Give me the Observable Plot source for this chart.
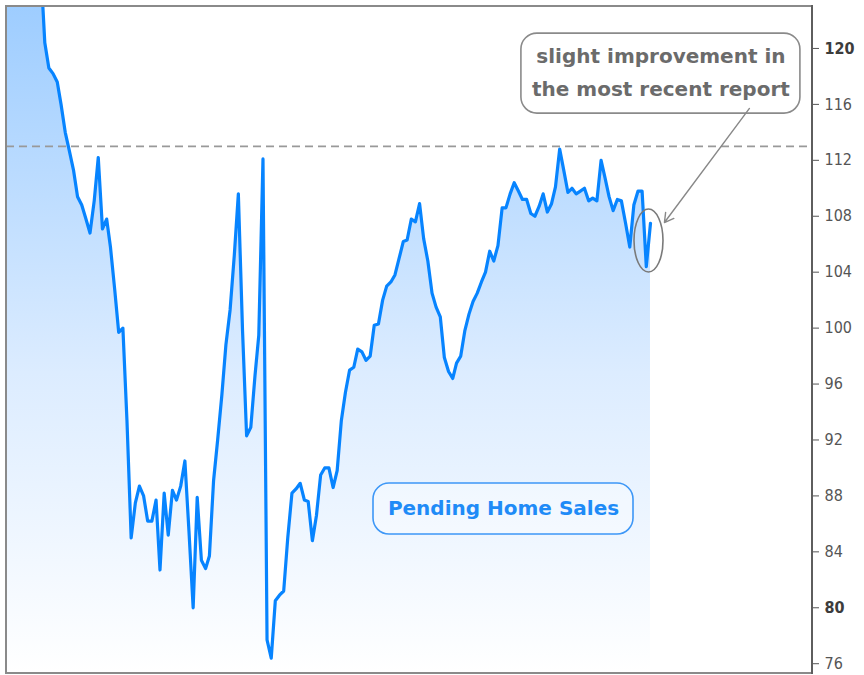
<!DOCTYPE html>
<html><head><meta charset="utf-8">
<script src="https://cdn.jsdelivr.net/npm/d3@7"></script>
<script src="https://cdn.jsdelivr.net/npm/@observablehq/plot@0.6"></script>
<style>
html,body{margin:0;padding:0;background:#fff;}
#chart{width:864px;height:675px;overflow:hidden;}
</style></head><body><div id="chart"></div>
<script>
// Monthly Pending Home Sales Index, Jan 2005 .. Feb 2018
const startYear = 2005;
const startMonth = 0; // January
const indexValues = [
  124.8,125.4,126.0,126.6,126.3,125.9,125.6,125.9,126.3,126.0,
  120.4,118.6,118.2,117.6,116.0,114.0,112.7,111.3,109.4,108.8,
  107.8,106.8,109.1,112.2,107.1,107.8,105.8,102.8, 99.7,100.0,
   93.4, 85.0, 87.5, 88.7, 88.0, 86.2, 86.2, 87.7, 82.7, 88.2,
   85.2, 88.4, 87.7, 88.7, 90.5, 85.5, 80.0, 87.9, 83.4, 82.8,
   83.7, 89.1, 92.0, 95.2, 98.8,101.3,105.2,109.6, 99.8, 92.3,
   92.9, 96.6, 99.5,112.1, 77.7, 76.4, 80.5, 80.9, 81.2, 85.0,
   88.2, 88.5, 88.9, 87.7, 87.6, 84.8, 86.6, 89.5, 90.0, 90.0,
   88.6, 89.8, 93.4, 95.4, 97.0, 97.2, 98.5, 98.3, 97.7, 98.0,
  100.2,100.3,102.0,103.0,103.3,103.8,105.0,106.2,106.3,107.8,
  107.6,108.9,106.4,104.8,102.5,101.5,100.8, 97.9, 96.9, 96.4,
   97.5, 98.0, 99.8,101.0,101.9,102.5,103.3,104.0,105.5,104.8,
  105.9,108.6,108.6,109.6,110.4,109.8,109.2,109.2,108.2,108.0,
  108.7,109.6,108.3,108.9,110.1,112.8,111.3,109.7,110.0,109.6,
  109.8,110.0,109.1,109.3,109.1,112.0,110.8,109.4,108.4,109.2,
  109.1,107.5,105.8,108.8,109.8,109.8,104.4,107.5
];
const yTicks = [76,80,84,88,92,96,100,104,108,112,116,120];
const boldTickLabels = ["80","120"];
const referenceLevel = 113.0;
const seriesLabel = "Pending Home Sales";
const noteLines = ["slight improvement in", "the most recent report"];

// annotation anchors in data units
const seriesLabelAt = {date: new Date(Date.UTC(2015,1,11)), value: 87.06};
const noteAt = {date: new Date(Date.UTC(2018,3,19)), value: 118.2};
const highlightAt = {date: new Date(Date.UTC(2018,0,21)), value: 106.23};
const arrowFrom = {date: new Date(Date.UTC(2020,1,2)), value: 115.71};
const arrowTo = {date: new Date(Date.UTC(2018,4,15)), value: 107.55};

const xDomain = [new Date(Date.UTC(2005,0,22)), new Date(Date.UTC(2021,4,13))];
const yDomain = [75.3, 123.0];

const data = indexValues.map((v, i) => ({date: new Date(Date.UTC(startYear, startMonth + i, 1)), value: v}));

const gradientDefs = (index, scales, values, dims) => {
  const defs = d3.create("svg:defs");
  const g = defs.append("linearGradient").attr("id", "phsFill")
    .attr("gradientUnits", "userSpaceOnUse")
    .attr("x1", 0).attr("x2", 0)
    .attr("y1", dims.marginTop).attr("y2", dims.height - dims.marginBottom);
  g.append("stop").attr("offset", "0%").attr("stop-color", "#9ecdff");
  g.append("stop").attr("offset", "55%").attr("stop-color", "#dcecff");
  g.append("stop").attr("offset", "100%").attr("stop-color", "#ffffff");
  return defs.node();
};

const frameMark = (index, scales, values, d) => {
  const g = d3.create("svg:g");
  const x0 = d.marginLeft, x1 = d.width - d.marginRight, y0 = d.marginTop, y1 = d.height - d.marginBottom;
  g.append("path").attr("d", `M${x1},${y0}H${x0}V${y1}H${x1}`)
    .attr("fill", "none").attr("stroke", "#8a8a8a").attr("stroke-width", 2);
  g.append("line").attr("x1", x1).attr("x2", x1).attr("y1", y0 - 1).attr("y2", y1 + 1)
    .attr("stroke", "#5e5e5e").attr("stroke-width", 2);
  return g.node();
};

const boxMark = (anchor, w, h, stroke, fill, fillOpacity) => (index, scales) => {
  const cx = scales.x(anchor.date), cy = scales.y(anchor.value);
  return d3.create("svg:rect")
    .attr("x", cx - w / 2).attr("y", cy - h / 2).attr("width", w).attr("height", h)
    .attr("rx", 16).attr("ry", 16)
    .attr("fill", fill).attr("fill-opacity", fillOpacity)
    .attr("stroke", stroke).attr("stroke-width", 1.6).node();
};

const ellipseMark = (index, scales) => {
  return d3.create("svg:ellipse")
    .attr("cx", scales.x(highlightAt.date)).attr("cy", scales.y(highlightAt.value))
    .attr("rx", 14.5).attr("ry", 31.5)
    .attr("fill", "none").attr("stroke", "#7a7a7a").attr("stroke-width", 1.6).node();
};

const chart = Plot.plot({
  width: 864,
  height: 675,
  marginTop: 6,
  marginBottom: 2,
  marginLeft: 6,
  marginRight: 52,
  style: {fontFamily: "'DejaVu Sans', sans-serif", fontSize: "16px", color: "#555", background: "#fff", fontStretch: "condensed"},
  x: {type: "utc", domain: xDomain, axis: null},
  y: {domain: yDomain, axis: "right", ticks: yTicks, tickSize: 6, tickPadding: 6, label: null, tickFormat: d => String(d)},
  marks: [
    gradientDefs,
    Plot.areaY(data, {x: "date", y1: yDomain[0], y2: "value", fill: "url(#phsFill)", clip: true}),
    Plot.ruleY([referenceLevel], {stroke: "#999", strokeWidth: 1.6, strokeDasharray: "8,5"}),
    Plot.line(data, {x: "date", y: "value", stroke: "#0784ff", strokeWidth: 3.2, clip: true}),
    frameMark,
    boxMark(noteAt, 279, 80, "#8a8a8a", "#fff", 1),
    Plot.text([noteAt], {x: "date", y: "value", text: () => noteLines[0], dy: -17, fill: "#6b6b6b", fontWeight: "bold", fontSize: 20, fontFamily: "'DejaVu Sans', sans-serif"}),
    Plot.text([noteAt], {x: "date", y: "value", text: () => noteLines[1], dy: 16, fill: "#6b6b6b", fontWeight: "bold", fontSize: 20, fontFamily: "'DejaVu Sans', sans-serif"}),
    Plot.arrow([{}], {x1: () => arrowFrom.date, y1: () => arrowFrom.value, x2: () => arrowTo.date, y2: () => arrowTo.value, stroke: "#888", strokeWidth: 1.4, headLength: 11, inset: 0}),
    ellipseMark,
    boxMark(seriesLabelAt, 260, 51, "#3d97f7", "#fff", 0.35),
    Plot.text([seriesLabelAt], {x: "date", y: "value", text: () => seriesLabel, fill: "#1f8bf7", fontWeight: "bold", fontSize: 20, fontFamily: "'DejaVu Sans', sans-serif"})
  ]
});

d3.select(chart).selectAll('[aria-label="text"]').style("font-stretch", "normal");
d3.select(chart).selectAll('[aria-label="y-axis tick label"] text').each(function() {
  const t = this.textContent.trim();
  if (boldTickLabels.includes(t)) d3.select(this).attr("font-weight", "bold").attr("fill", "#3c3c3c");
});

document.getElementById("chart").appendChild(chart);
</script>
</body></html>
